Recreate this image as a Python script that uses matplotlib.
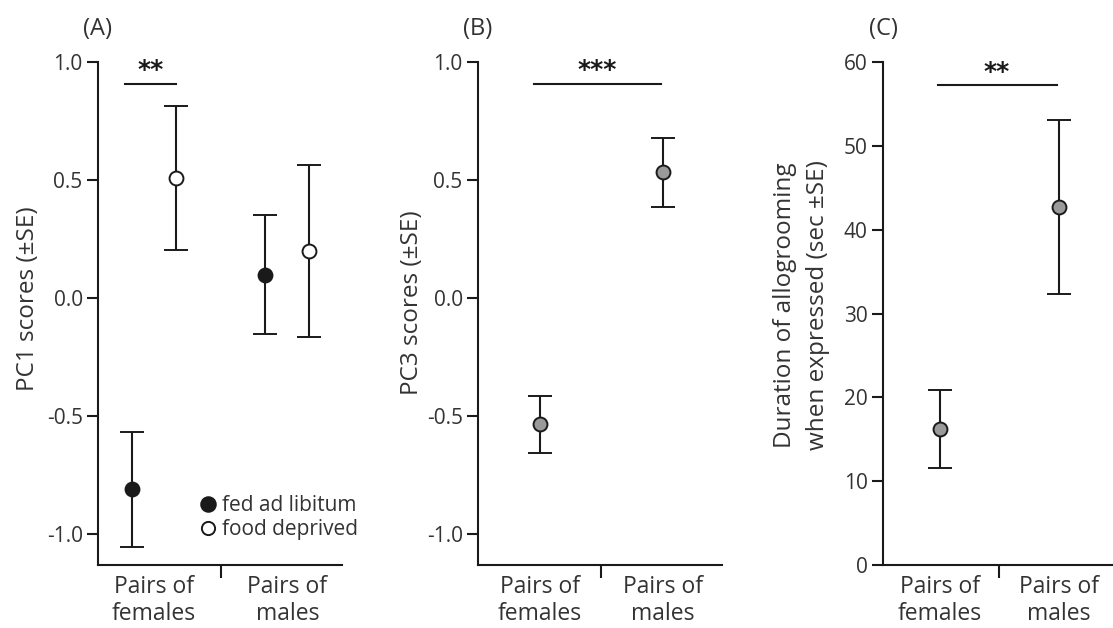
import matplotlib
matplotlib.use("Agg")
import matplotlib.pyplot as plt
from matplotlib.lines import Line2D

plt.rcParams["font.family"] = ["Open Sans", "DejaVu Sans"]

# ---- data ----
groups = ["Pairs of\nfemales", "Pairs of\nmales"]

# (A) PC1 scores by feeding treatment
pc1_fed_mean = [-0.81, 0.10]
pc1_fed_se = [0.245, 0.25]
pc1_dep_mean = [0.51, 0.20]
pc1_dep_se = [0.305, 0.365]
pc1_ticks = [-1.0, -0.5, 0.0, 0.5, 1.0]
pc1_ticklabels = ["-1.0", "-0.5", "0.0", "0.5", "1.0"]

# (B) PC3 scores
pc3_mean = [-0.535, 0.533]
pc3_se = [0.122, 0.147]

# (C) allogrooming duration (sec)
groom_mean = [16.2, 42.7]
groom_se = [4.65, 10.35]
groom_ticks = [0, 10, 20, 30, 40, 50, 60]

# significance brackets: (start, end, height, label)
sig_a = (-0.22, 0.165, 0.905, "**")
sig_b = (-0.05, 0.98, 0.905, "***")
sig_c = (-0.02, 0.98, 57.2, "**")

legend_labels = ["fed ad libitum", "food deprived"]

# ---- styling ----
INK = "#1a1a1a"
TXT = "#333333"
GREY = "#9a9a9a"
LW = 1.5
eb_kw = dict(fmt="o", ms=10, mew=1.4, mec=INK, ecolor=INK, elinewidth=LW,
             capsize=8.5, capthick=LW, zorder=3)

fig = plt.figure(figsize=(11.13, 6.28), dpi=100)
W, H = 1113, 628
top_px, bot_px = 62, 565


def make_axes(x0, x1):
    return fig.add_axes([x0 / W, 1 - bot_px / H, (x1 - x0) / W, (bot_px - top_px) / H])


def style(ax, xlim, ylim, yticks, yticklabels):
    ax.set_xlim(*xlim)
    ax.set_ylim(*ylim)
    for s in ("top", "right"):
        ax.spines[s].set_visible(False)
    for s in ("left", "bottom"):
        ax.spines[s].set_linewidth(LW)
        ax.spines[s].set_color(INK)
    ax.set_yticks(yticks)
    ax.set_yticklabels(yticklabels)
    ax.tick_params(axis="y", length=8, width=LW, color=INK, labelsize=15,
                   labelcolor=TXT, pad=3)
    # category labels without ticks, one divider tick between groups
    ax.set_xticks([0, 1])
    ax.set_xticklabels(groups, fontsize=16.5, color=TXT, linespacing=1.2)
    ax.tick_params(axis="x", length=0, pad=7)
    ax.set_xticks([0.5], minor=True)
    ax.tick_params(axis="x", which="minor", length=9, width=LW, color=INK,
                   direction="out")


def bracket(ax, spec, dy):
    x0, x1, y, lab = spec
    ax.plot([x0, x1], [y, y], color=INK, lw=LW, clip_on=False)
    ax.text((x0 + x1) / 2, y + dy, lab, ha="center", va="center",
            fontsize=18, fontweight="bold", color=INK, family="DejaVu Sans",
            clip_on=False)


def panel_letter(ax, letter):
    ax.text(0, 1.065, letter, transform=ax.transAxes, ha="center", va="center",
            fontsize=17, color=TXT)


# ---- (A) ----
axA = make_axes(98, 342)
off = 0.165
xs = [0, 1]
axA.errorbar([x - off for x in xs], pc1_fed_mean, yerr=pc1_fed_se,
             mfc=INK, **eb_kw)
axA.errorbar([x + off for x in xs], pc1_dep_mean, yerr=pc1_dep_se,
             mfc="white", **eb_kw)
style(axA, (-0.42, 1.41), (-1.13, 1.0), pc1_ticks, pc1_ticklabels)
axA.set_ylabel("PC1 scores (\u00b1SE)", fontsize=17.5, color=TXT, va="center")
axA.yaxis.set_label_coords(-0.285, 0.53)
bracket(axA, sig_a, 0.06)
panel_letter(axA, "(A)")
handles = [Line2D([], [], ls="none", marker="o", ms=10.5, mew=1.4, mec=INK, mfc=INK),
           Line2D([], [], ls="none", marker="o", ms=9.5, mew=1.4, mec=INK, mfc="white")]
axA.legend(handles, legend_labels, loc="center left", bbox_to_anchor=(0.419, 0.094),
           frameon=False, fontsize=15, handlelength=0.7, handletextpad=0.35,
           borderpad=0, borderaxespad=0, labelspacing=0.15, labelcolor=TXT)

# ---- (B) ----
axB = make_axes(478, 722)
axB.errorbar(xs, pc3_mean, yerr=pc3_se, mfc=GREY, **eb_kw)
style(axB, (-0.504, 1.48), (-1.13, 1.0), pc1_ticks, pc1_ticklabels)
axB.set_ylabel("PC3 scores (\u00b1SE)", fontsize=17.5, color=TXT, va="center")
axB.yaxis.set_label_coords(-0.27, 0.522)
bracket(axB, sig_b, 0.06)
panel_letter(axB, "(B)")

# ---- (C) ----
axC = make_axes(883, 1113)
axC.errorbar(xs, groom_mean, yerr=groom_se, mfc=GREY, **eb_kw)
style(axC, (-0.479, 1.454), (0, 60), groom_ticks, [str(t) for t in groom_ticks])
axC.set_ylabel("Duration of allogrooming\nwhen expressed (sec \u00b1SE)", fontsize=17.5,
               color=TXT, va="center", linespacing=1.5)
axC.yaxis.set_label_coords(-0.354, 0.516)
bracket(axC, sig_c, 1.6)
panel_letter(axC, "(C)")

fig.savefig("out.png", dpi=100)
